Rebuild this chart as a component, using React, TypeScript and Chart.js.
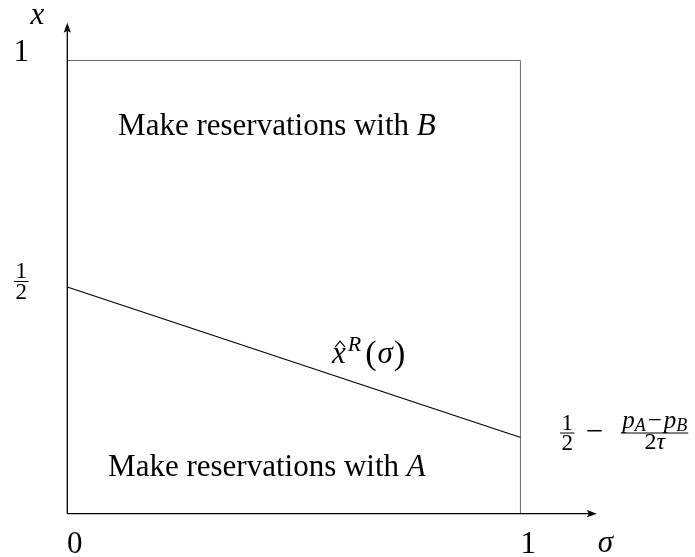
import { useEffect, useRef } from "react";
import { Chart, registerables } from "chart.js";

Chart.register(...registerables);

// Threshold line x̂^R(σ): value of x at σ = 0 and σ = 1
const sigmaGrid = [0, 1];
const thresholdValues = [0.5, 0.168];

// Upper and right edges of the unit square
const boxSigma = [0, 1, 1];
const boxX = [1, 1, 0];

// Axis ticks
const sigmaTickValues = [0, 1];
const sigmaTickLabels = ["0", "1"];
const xTickTop = 1;
const xTickTopLabel = "1";
const xTickHalf = 0.5;

// Axis extents (arrow tips) in data units
const sigmaAxisEnd = 1.168;
const xAxisEnd = 1.083;

// Region labels: anchor (σ, x) of left end / baseline
const regionB = { sigma: 0.112, x: 0.835, text: "Make reservations with ", letter: "B" };
const regionA = { sigma: 0.09, x: 0.083, text: "Make reservations with ", letter: "A" };
const curveLabelAnchor = { sigma: 0.584, x: 0.332 };

const SERIF = '"Liberation Serif", "Times New Roman", serif';
const fnt = (size: number, italic = false) => `${italic ? "italic " : ""}${size}px ${SERIF}`;

type Part = { t: string; size: number; italic?: boolean; dy?: number; gap?: number };

function partsWidth(ctx: CanvasRenderingContext2D, parts: Part[]) {
  let w = 0;
  for (const p of parts) {
    ctx.font = fnt(p.size, p.italic);
    w += ctx.measureText(p.t).width + (p.gap || 0);
  }
  return w;
}

function drawParts(ctx: CanvasRenderingContext2D, x: number, y: number, parts: Part[]) {
  let cx = x;
  const starts: number[] = [];
  for (const p of parts) {
    ctx.font = fnt(p.size, p.italic);
    starts.push(cx);
    ctx.fillText(p.t, cx, y + (p.dy || 0));
    cx += ctx.measureText(p.t).width + (p.gap || 0);
  }
  return starts;
}

function drawFraction(
  ctx: CanvasRenderingContext2D,
  cx: number,
  barY: number,
  num: Part[],
  den: Part[],
  numGap: number,
  denGap: number,
  pad: number
) {
  const wn = partsWidth(ctx, num);
  const wd = partsWidth(ctx, den);
  const w = Math.max(wn, wd) + 2 * pad;
  drawParts(ctx, cx - wn / 2, barY - numGap, num);
  drawParts(ctx, cx - wd / 2, barY + denGap, den);
  ctx.save();
  ctx.lineWidth = 1;
  ctx.strokeStyle = "#000";
  ctx.beginPath();
  ctx.moveTo(cx - w / 2, barY);
  ctx.lineTo(cx + w / 2, barY);
  ctx.stroke();
  ctx.restore();
  return w;
}

function arrowHead(ctx: CanvasRenderingContext2D, tx: number, ty: number, dx: number, dy: number) {
  const len = 10;
  const half = 3.6;
  const bx = tx - dx * len;
  const by = ty - dy * len;
  ctx.beginPath();
  ctx.moveTo(tx, ty);
  ctx.lineTo(bx - dy * half, by + dx * half);
  ctx.lineTo(bx + dx * 2, by + dy * 2);
  ctx.lineTo(bx + dy * half, by - dx * half);
  ctx.closePath();
  ctx.fill();
}

const figureDecor = {
  id: "figureDecor",
  afterDatasetsDraw(chart: Chart) {
    const ctx = chart.ctx;
    const sx = chart.scales.x;
    const sy = chart.scales.y;
    const X = (v: number) => sx.getPixelForValue(v);
    const Y = (v: number) => sy.getPixelForValue(v);

    ctx.save();
    ctx.fillStyle = "#000";
    ctx.strokeStyle = "#000";
    ctx.lineWidth = 1.3;

    // axes with arrows
    const ox = X(0);
    const oy = Y(0);
    const ax = X(sigmaAxisEnd);
    const ay = Y(xAxisEnd);
    ctx.beginPath();
    ctx.moveTo(ox, oy);
    ctx.lineTo(ax - 8, oy);
    ctx.moveTo(ox, oy);
    ctx.lineTo(ox, ay + 8);
    ctx.stroke();
    arrowHead(ctx, ax, oy, 1, 0);
    arrowHead(ctx, ox, ay, 0, -1);

    ctx.textBaseline = "alphabetic";
    ctx.textAlign = "left";

    // σ-axis ticks
    sigmaTickValues.forEach((v, i) => {
      ctx.font = fnt(31);
      const w = ctx.measureText(sigmaTickLabels[i]).width;
      ctx.fillText(sigmaTickLabels[i], X(v) + 7.5 - w / 2, oy + 39);
    });
    // σ label
    ctx.font = fnt(31, true);
    {
      const w = ctx.measureText("σ").width;
      ctx.fillText("σ", ax + 8.5 - w / 2, oy + 38.5);
    }

    // x-axis ticks
    ctx.font = fnt(31);
    {
      const w = ctx.measureText(xTickTopLabel).width;
      ctx.fillText(xTickTopLabel, ox - 46 - w / 2, Y(xTickTop) + 0.7);
    }
    drawFraction(ctx, ox - 46, Y(xTickHalf) - 5.5, [{ t: "1", size: 23 }], [{ t: "2", size: 23 }], 3.5, 17, 1.5);

    // x label
    ctx.font = fnt(31, true);
    {
      const w = ctx.measureText("x").width;
      ctx.fillText("x", ox - 30 - w / 2, ay + 1.5);
    }

    // region labels
    for (const r of [regionB, regionA]) {
      drawParts(ctx, X(r.sigma), Y(r.x), [
        { t: r.text, size: 31 },
        { t: r.letter, size: 31, italic: true },
      ]);
    }

    // curve label x̂^R(σ)
    {
      const lx = X(curveLabelAnchor.sigma);
      const ly = Y(curveLabelAnchor.x);
      const starts = drawParts(ctx, lx, ly, [
        { t: "x", size: 31, italic: true, gap: 2 },
        { t: "R", size: 22, italic: true, dy: -12, gap: 4 },
        { t: "(", size: 34, dy: 1, gap: 1 },
        { t: "σ", size: 31, italic: true, gap: 1 },
        { t: ")", size: 34, dy: 1 },
      ]);
      // hat over x
      const hx = starts[0] + 8;
      ctx.lineWidth = 1.2;
      ctx.beginPath();
      ctx.moveTo(hx - 5, ly - 16);
      ctx.lineTo(hx, ly - 22);
      ctx.lineTo(hx + 5, ly - 16);
      ctx.stroke();
    }

    // end value label: 1/2 − (p_A − p_B)/(2τ)
    {
      const ex = X(sigmaGrid[1]);
      const ey = Y(thresholdValues[1]);
      const barY = ey - 4.5;
      drawFraction(ctx, ex + 46.5, barY, [{ t: "1", size: 23 }], [{ t: "2", size: 23 }], 3, 17, 1.5);
      ctx.font = fnt(31);
      ctx.fillText("−", ex + 65, barY + 8);
      drawFraction(
        ctx,
        ex + 134,
        barY,
        [
          { t: "p", size: 25, italic: true },
          { t: "A", size: 18, italic: true, dy: 3, gap: 2 },
          { t: "−", size: 25, gap: 2 },
          { t: "p", size: 25, italic: true },
          { t: "B", size: 18, italic: true, dy: 3 },
        ],
        [
          { t: "2", size: 24 },
          { t: "τ", size: 24, italic: true },
        ],
        5,
        16,
        1
      );
    }

    ctx.restore();
  },
};

export default function App() {
  const canvasRef = useRef<HTMLCanvasElement | null>(null);

  useEffect(() => {
    const canvas = canvasRef.current;
    if (!canvas) return;
    const chart = new Chart(canvas, {
      type: "scatter",
      data: {
        datasets: [
          {
            label: "box",
            data: boxSigma.map((s, i) => ({ x: s, y: boxX[i] })),
            showLine: true,
            borderColor: "#333333",
            borderWidth: 1.5,
            pointRadius: 0,
            tension: 0,
          },
          {
            label: "threshold",
            data: sigmaGrid.map((s, i) => ({ x: s, y: thresholdValues[i] })),
            showLine: true,
            borderColor: "#000",
            borderWidth: 1.2,
            pointRadius: 0,
            tension: 0,
          },
        ],
      },
      options: {
        responsive: false,
        animation: false,
        devicePixelRatio: 1,
        layout: { padding: { left: 67.3, right: 174.3, top: 60.3, bottom: 43.3 } },
        plugins: { legend: { display: false }, tooltip: { enabled: false } },
        scales: {
          x: { type: "linear", min: 0, max: 1, display: false },
          y: { type: "linear", min: 0, max: 1, display: false },
        },
      },
      plugins: [figureDecor],
    });
    return () => chart.destroy();
  }, []);

  return (
    <div style={{ position: "absolute", left: 0, top: 0, width: 695, height: 557, background: "#fff" }}>
      <canvas ref={canvasRef} width={695} height={557} style={{ display: "block" }} />
    </div>
  );
}
